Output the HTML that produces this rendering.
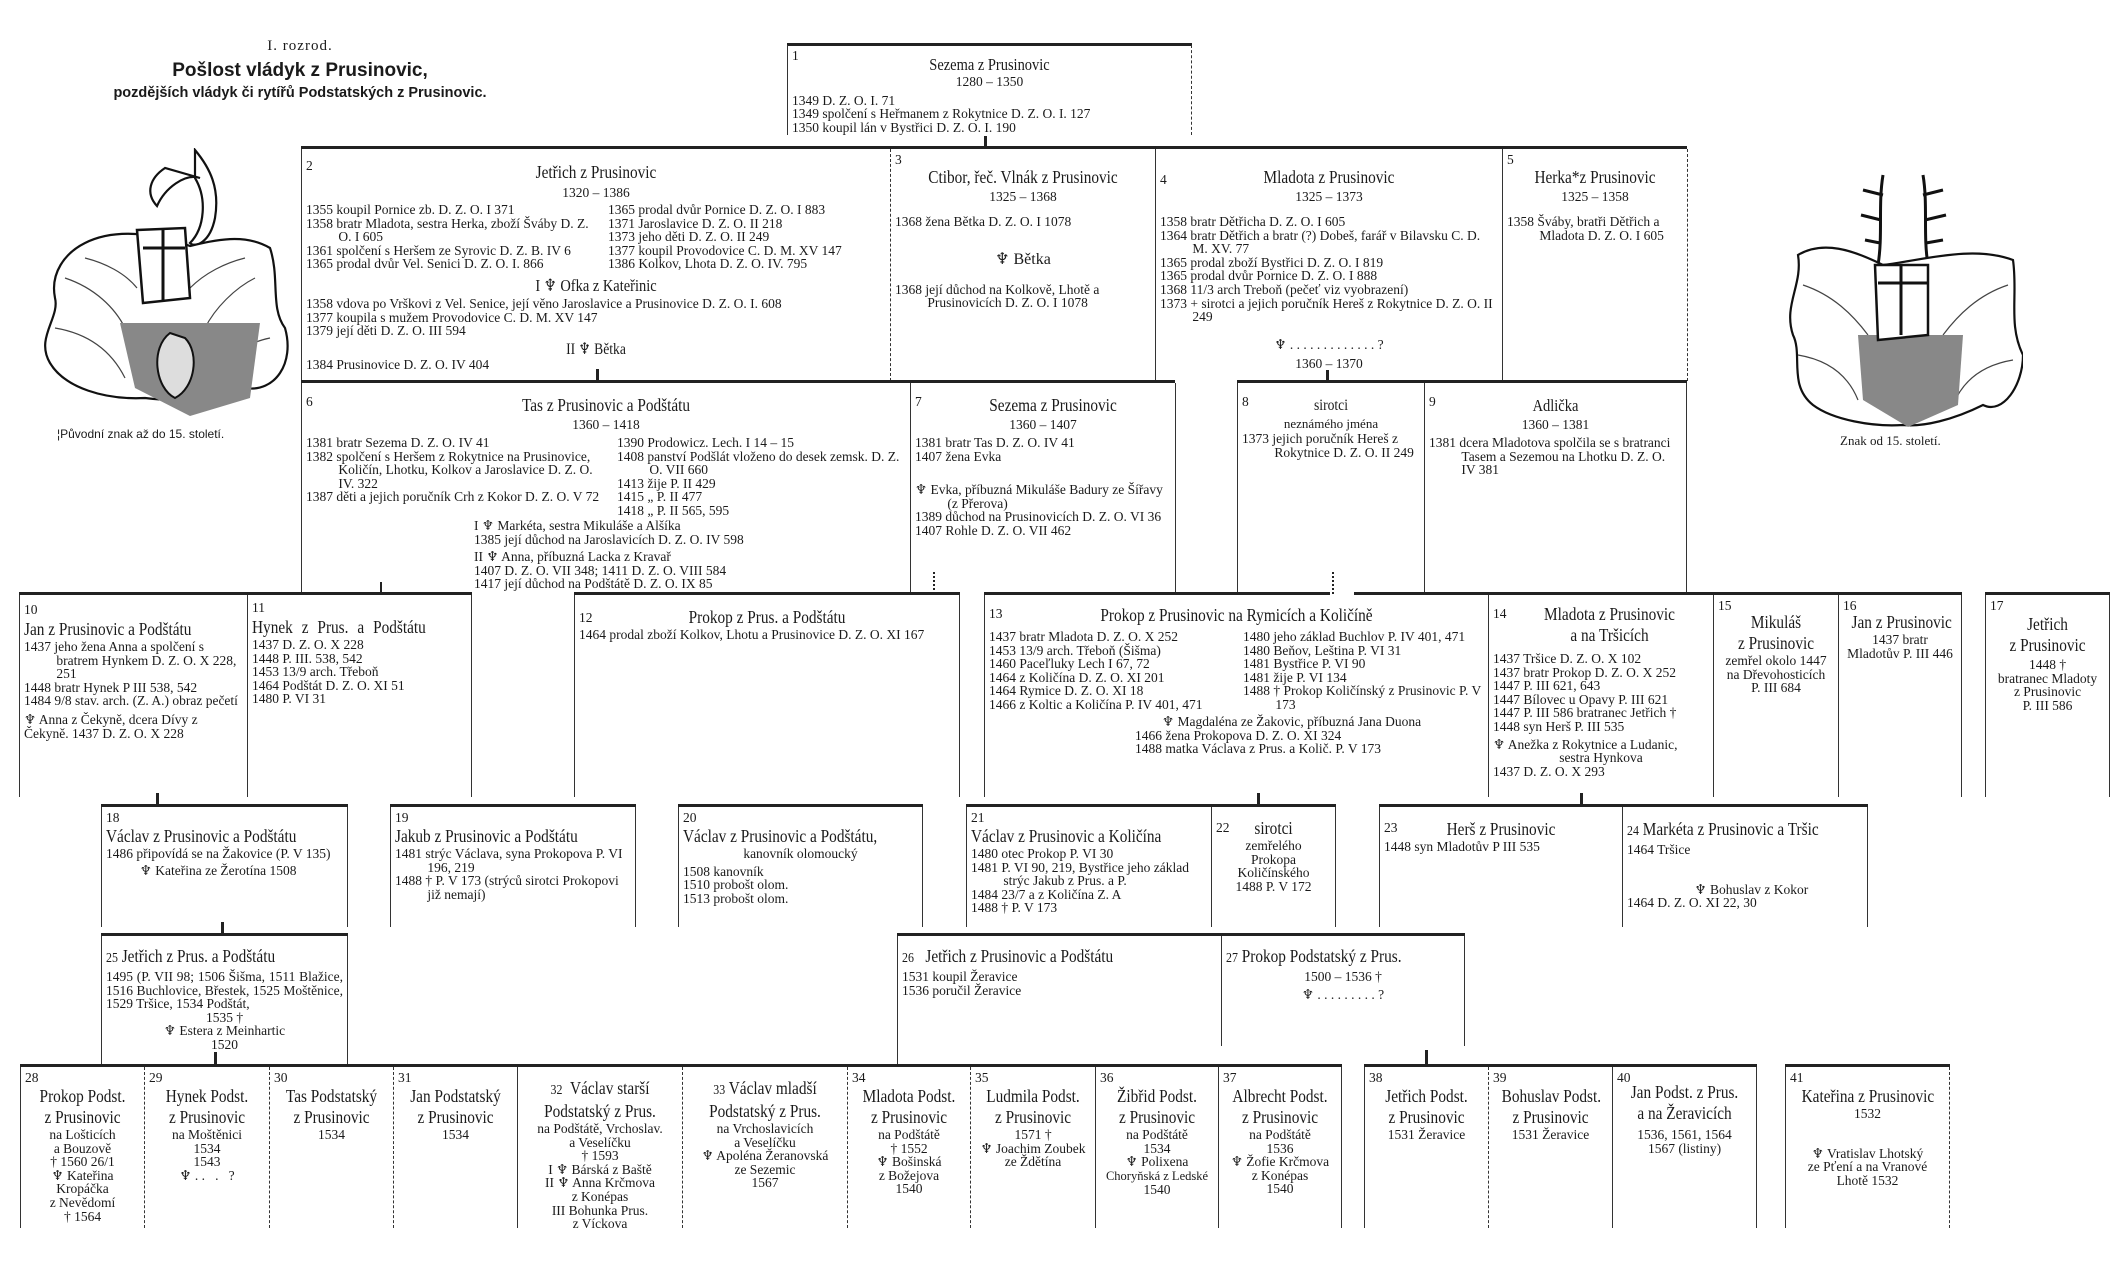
<!DOCTYPE html>
<html><head><meta charset="utf-8">
<style>
html,body{margin:0;padding:0;background:#fff;}
body{width:2126px;height:1265px;position:relative;overflow:hidden;font-family:"Liberation Serif",serif;color:#1a1a1a;}
.b{position:absolute;border-left:1.3px solid #333;box-sizing:border-box;}
.r{border-right:1.3px solid #333;}
.t{position:absolute;height:3px;background:#222;}
.v{position:absolute;width:3px;background:#222;}
.d{position:absolute;width:0;border-left:2px dotted #222;}
.in{position:absolute;left:4px;top:3px;width:calc(100% - 8px);font-size:13.5px;line-height:13.6px;letter-spacing:0;}
.num{font-size:13.5px;line-height:16px;}
.n{font-size:18px;line-height:21px;text-align:center;letter-spacing:0;}
.c{text-align:center;}
.h{padding-left:2.4em;text-indent:-2.4em;}
.cap{position:absolute;font-size:13px;white-space:nowrap;}
</style></head><body>

<!-- Title -->
<div style="position:absolute;left:160px;top:38px;width:280px;text-align:center;font-size:15px;letter-spacing:1px;">I. rozrod.</div>
<div style="position:absolute;left:150px;top:60px;width:300px;text-align:center;font-family:'Liberation Sans',sans-serif;font-weight:bold;font-size:19px;">Pošlost vládyk z Prusinovic,</div>
<div style="position:absolute;left:60px;top:85px;width:480px;text-align:center;font-family:'Liberation Sans',sans-serif;font-weight:bold;font-size:14.5px;">pozdějších vládyk či rytířů Podstatských z Prusinovic.</div>

<!-- Coats of arms -->
<svg style="position:absolute;left:25px;top:148px" width="265" height="275" viewBox="0 0 265 275">
 <g stroke="#111" stroke-width="2.2" fill="#fff">
  <path d="M170 2 C185 20 195 40 190 70 C185 95 170 100 165 95 C180 80 182 50 170 30 Z"/>
  <path d="M140 20 C125 30 120 45 132 58 C140 40 160 25 175 30 Z"/>
  <path d="M60 95 C90 80 130 85 165 98 C190 92 220 85 245 100 C255 130 245 160 260 180 C270 215 250 245 220 240 C200 250 160 255 120 250 C80 252 40 240 25 215 C10 190 35 170 30 150 C25 125 40 105 60 95 Z"/>
 </g>
 <g stroke="#444" stroke-width="1.2" fill="none">
  <path d="M40 130 C70 140 90 160 100 180 M30 180 C60 185 85 200 100 230 M230 130 C210 140 190 160 180 180 M245 190 C220 195 200 210 190 235 M60 110 C80 115 100 125 112 140 M220 110 C200 115 180 125 165 140"/>
 </g>
 <path d="M95 175 L235 175 L225 250 L165 268 L110 240 Z" fill="#888"/>
 <path d="M112 82 L160 80 L165 150 L118 155 Z" fill="#fff" stroke="#111" stroke-width="2.5"/>
 <path d="M138 82 L138 152 M118 100 L160 100" stroke="#111" stroke-width="3"/>
 <path d="M145 185 C125 200 130 240 150 250 C170 240 175 205 160 190 Z" fill="#ddd" stroke="#111" stroke-width="2"/>
</svg>
<div class="cap" style="left:57px;top:427px;font-family:'Liberation Sans',sans-serif;font-size:12px;">¦Původní znak až do 15. století.</div>

<svg style="position:absolute;left:1783px;top:165px" width="240" height="262" viewBox="0 0 240 262">
 <g stroke="#111" stroke-width="3" fill="none">
  <path d="M100 10 C95 40 100 70 95 100 M100 30 L80 25 M98 55 L78 50 M97 78 L82 75 M140 10 C145 40 140 70 145 100 M140 30 L160 25 M142 55 L163 50 M143 78 L160 75"/>
 </g>
 <path d="M15 90 C40 75 70 85 100 100 C140 95 190 80 230 95 C235 130 225 160 240 190 C240 220 220 250 200 240 C170 255 140 262 120 260 C90 262 50 255 30 240 C5 220 20 190 10 170 C0 140 20 120 15 90 Z" fill="#fff" stroke="#111" stroke-width="2.2"/>
 <g stroke="#444" stroke-width="1.2" fill="none">
  <path d="M20 120 C50 130 70 150 85 170 M15 190 C45 195 65 210 75 235 M225 120 C195 130 175 150 160 170 M230 195 C200 200 180 215 170 240"/>
 </g>
 <path d="M75 170 L180 170 L175 240 L125 262 L80 235 Z" fill="#888"/>
 <path d="M92 100 L145 100 L145 170 L95 175 Z" fill="#fff" stroke="#111" stroke-width="2.5"/>
 <path d="M118 100 L118 170 M95 118 L145 118" stroke="#111" stroke-width="3"/>
</svg>
<div class="cap" style="left:1840px;top:433px;">Znak od 15. století.</div>

<!-- ROW 1 -->
<div class="t" style="left:787px;top:43px;width:405px"></div>
<div class="b r" style="left:787px;top:45px;width:405px;height:90px;border-right-style:dashed;">
 <div class="in"><div class="num">1</div></div>
 <div class="n" style="position:absolute;left:0;right:0;top:9px;font-size:17px;transform:scaleX(.85)">Sezema z Prusinovic</div>
 <div class="in" style="top:30px"><div class="c">1280 – 1350</div><div style="height:5px"></div>
 <div>1349 D. Z. O. I. 71</div><div>1349 spolčení s Heřmanem z Rokytnice D. Z. O. I. 127</div><div>1350 koupil lán v Bystřici D. Z. O. I. 190</div></div>
</div>
<div class="v" style="left:984px;top:136px;height:11px"></div>

<!-- ROW 2 -->
<div class="t" style="left:301px;top:146px;width:1386px"></div>
<div class="b" style="left:301px;top:149px;width:589px;height:232px;">
 <div class="in"><div class="num" style="margin-top:6px">2</div></div>
 <div class="n" style="position:absolute;left:0;right:0;top:13px;transform:scaleX(.85)">Jetřich z Prusinovic</div>
 <div class="c" style="position:absolute;left:0;right:0;top:36px;font-size:13.5px;">1320 – 1386</div>
 <div class="in" style="top:54px;width:290px">
  <div>1355 koupil Pornice zb. D. Z. O. I 371</div>
  <div class="h">1358 bratr Mladota, sestra Herka, zboží Šváby D. Z. O. I 605</div>
  <div>1361 spolčení s Heršem ze Syrovic D. Z. B. IV 6</div>
  <div>1365 prodal dvůr Vel. Senici D. Z. O. I. 866</div>
 </div>
 <div class="in" style="left:306px;top:54px;width:280px">
  <div>1365 prodal dvůr Pornice D. Z. O. I 883</div>
  <div>1371 Jaroslavice D. Z. O. II 218</div>
  <div>1373 jeho děti D. Z. O. II 249</div>
  <div>1377 koupil Provodovice C. D. M. XV 147</div>
  <div>1386 Kolkov, Lhota D. Z. O. IV. 795</div>
 </div>
 <div class="c" style="position:absolute;left:0;right:0;top:127px;font-size:17px;transform:scaleX(.85)">I ♆ Ofka z Kateřinic</div>
 <div class="in" style="top:148px">
  <div>1358 vdova po Vrškovi z Vel. Senice, její věno Jaroslavice a Prusinovice D. Z. O. I. 608</div>
  <div>1377 koupila s mužem Provodovice C. D. M. XV 147</div>
  <div>1379 její děti D. Z. O. III 594</div>
 </div>
 <div class="c" style="position:absolute;left:0;right:0;top:190px;font-size:16px;transform:scaleX(.85)">II ♆ Bětka</div>
 <div class="in" style="top:209px"><div>1384 Prusinovice D. Z. O. IV 404</div></div>
</div>
<div class="b" style="left:890px;top:149px;width:265px;height:232px;border-left-style:dashed;">
 <div class="in"><div class="num">3</div></div>
 <div class="n" style="position:absolute;left:0;right:0;top:18px;transform:scaleX(.85)">Ctibor, řeč. Vlnák z Prusinovic</div>
 <div class="c" style="position:absolute;left:0;right:0;top:40px;font-size:13.5px;">1325 – 1368</div>
 <div class="in" style="top:66px">
  <div>1368 žena Bětka D. Z. O. I 1078</div>
  <div style="height:22px"></div>
  <div class="c" style="font-size:16px;line-height:18px">♆ Bětka</div>
  <div style="height:14px"></div>
  <div class="h">1368 její důchod na Kolkově, Lhotě a Prusinovicích D. Z. O. I 1078</div>
 </div>
</div>
<div class="b" style="left:1155px;top:149px;width:347px;height:232px;">
 <div class="in"><div class="num" style="margin-top:20px">4</div></div>
 <div class="n" style="position:absolute;left:0;right:0;top:18px;transform:scaleX(.85)">Mladota z Prusinovic</div>
 <div class="c" style="position:absolute;left:0;right:0;top:40px;font-size:13.5px;">1325 – 1373</div>
 <div class="in" style="top:66px">
  <div>1358 bratr Dětřicha D. Z. O. I 605</div>
  <div class="h">1364 bratr Dětřich a bratr (?) Dobeš, farář v Bilavsku C. D. M. XV. 77</div>
  <div>1365 prodal zboží Bystřici D. Z. O. I 819</div>
  <div>1365 prodal dvůr Pornice D. Z. O. I 888</div>
  <div>1368 11/3 arch Treboň (pečeť viz vyobrazení)</div>
  <div class="h">1373 + sirotci a jejich poručník Hereš z Rokytnice D. Z. O. II 249</div>
  <div style="height:14px"></div>
  <div class="c">♆ . . . . . . . . . . . . . ?</div>
  <div style="height:6px"></div>
  <div class="c">1360 – 1370</div>
 </div>
</div>
<div class="b r" style="left:1502px;top:149px;width:186px;height:232px;border-right-style:dashed;">
 <div class="in"><div class="num">5</div></div>
 <div class="n" style="position:absolute;left:0;right:0;top:18px;transform:scaleX(.85)">Herka*z Prusinovic</div>
 <div class="c" style="position:absolute;left:0;right:0;top:40px;font-size:13.5px;">1325 – 1358</div>
 <div class="in" style="top:66px"><div class="h">1358 Šváby, bratři Dětřich a Mladota D. Z. O. I 605</div></div>
</div>
<div class="v" style="left:596px;top:369px;height:12px"></div>
<div class="v" style="left:1326px;top:370px;height:11px"></div>

<!-- ROW 3 -->
<div class="t" style="left:301px;top:380px;width:874px"></div>
<div class="t" style="left:1237px;top:380px;width:450px"></div>
<div class="b" style="left:301px;top:383px;width:609px;height:212px;">
 <div class="in"><div class="num" style="margin-top:8px">6</div></div>
 <div class="n" style="position:absolute;left:0;right:0;top:12px;transform:scaleX(.85)">Tas z Prusinovic a Podštátu</div>
 <div class="c" style="position:absolute;left:0;right:0;top:34px;font-size:13.5px;">1360 – 1418</div>
 <div class="in" style="top:53px;width:295px">
  <div>1381 bratr Sezema D. Z. O. IV 41</div>
  <div class="h">1382 spolčení s Heršem z Rokytnice na Prusinovice, Količín, Lhotku, Kolkov a Jaroslavice D. Z. O. IV. 322</div>
  <div class="h">1387 děti a jejich poručník Crh z Kokor D. Z. O. V 72</div>
 </div>
 <div class="in" style="left:315px;top:53px;width:290px">
  <div>1390 Prodowicz. Lech. I 14 – 15</div>
  <div class="h">1408 panství Podšlát vloženo do desek zemsk. D. Z. O. VII 660</div>
  <div>1413 žije P. II 429</div>
  <div>1415 „ P. II 477</div>
  <div>1418 „ P. II 565, 595</div>
 </div>
 <div class="in" style="left:172px;top:136px;width:300px">
  <div>I ♆ Markéta, sestra Mikuláše a Alšíka</div>
  <div>1385 její důchod na Jaroslavicích D. Z. O. IV 598</div>
  <div style="height:4px"></div>
  <div>II ♆ Anna, příbuzná Lacka z Kravař</div>
  <div>1407 D. Z. O. VII 348; 1411 D. Z. O. VIII 584</div>
  <div>1417 její důchod na Podštátě D. Z. O. IX 85</div>
 </div>
</div>
<div class="b" style="left:910px;top:383px;width:265px;height:212px;">
 <div class="in"><div class="num" style="margin-top:8px">7</div></div>
 <div class="n" style="position:absolute;left:20px;right:0;top:12px;transform:scaleX(.85)">Sezema z Prusinovic</div>
 <div class="c" style="position:absolute;left:0;right:0;top:34px;font-size:13.5px;">1360 – 1407</div>
 <div class="in" style="top:53px">
  <div>1381 bratr Tas D. Z. O. IV 41</div>
  <div>1407 žena Evka</div>
  <div style="height:20px"></div>
  <div class="h">♆ Evka, příbuzná Mikuláše Badury ze Šířavy (z Přerova)</div>
  <div class="h">1389 důchod na Prusinovicích D. Z. O. VI 36</div>
  <div>1407 Rohle D. Z. O. VII 462</div>
 </div>
</div>
<div class="b r" style="left:1175px;top:383px;width:0;height:212px;border-left:none"></div>
<div class="b" style="left:1237px;top:383px;width:187px;height:212px;">
 <div class="in"><div class="num" style="margin-top:8px">8</div></div>
 <div class="n" style="position:absolute;left:0;right:0;top:12px;font-size:16px;transform:scaleX(.85)">sirotci</div>
 <div class="c" style="position:absolute;left:0;right:0;top:33px;font-size:13px;">neznámého jména</div>
 <div class="in" style="top:49px"><div class="h">1373 jejich poručník Hereš z Rokytnice D. Z. O. II 249</div></div>
</div>
<div class="b r" style="left:1424px;top:383px;width:263px;height:212px;">
 <div class="in"><div class="num" style="margin-top:8px">9</div></div>
 <div class="n" style="position:absolute;left:0;right:0;top:12px;font-size:17px;transform:scaleX(.85)">Adlička</div>
 <div class="c" style="position:absolute;left:0;right:0;top:34px;font-size:13.5px;">1360 – 1381</div>
 <div class="in" style="top:53px"><div class="h">1381 dcera Mladotova spolčila se s bratranci Tasem a Sezemou na Lhotku D. Z. O. IV 381</div></div>
</div>
<div class="v" style="left:380px;top:582px;height:11px;width:2px"></div>
<div class="d" style="left:933px;top:572px;height:22px"></div>
<div class="d" style="left:1332px;top:572px;height:22px"></div>

<!-- ROW 4 -->
<div class="t" style="left:19px;top:592px;width:453px"></div>
<div class="t" style="left:574px;top:592px;width:386px"></div>
<div class="t" style="left:984px;top:592px;width:346px"></div>
<div class="t" style="left:1354px;top:592px;width:608px"></div>
<div class="t" style="left:1985px;top:592px;width:125px"></div>
<div class="b" style="left:19px;top:595px;width:228px;height:202px;">
 <div class="in"><div class="num" style="margin-top:4px">10</div>
 <div class="n" style="text-align:left;line-height:22px;transform:scaleX(.85);transform-origin:0 0;white-space:nowrap">Jan z Prusinovic a Podštátu</div>
 <div class="h">1437 jeho žena Anna a spolčení s bratrem Hynkem D. Z. O. X 228, 251</div>
 <div>1448 bratr Hynek P III 538, 542</div>
 <div class="h">1484 9/8 stav. arch. (Z. A.) obraz pečetí</div>
 <div style="height:5px"></div>
 <div>♆ Anna z Čekyně, dcera Dívy z Čekyně. 1437 D. Z. O. X 228</div></div>
</div>
<div class="b r" style="left:247px;top:595px;width:225px;height:202px;">
 <div class="in"><div class="num" style="margin-top:2px">11</div>
 <div class="n" style="text-align:left;line-height:22px;word-spacing:6px;transform:scaleX(.85);transform-origin:0 0;white-space:nowrap">Hynek z Prus. a Podštátu</div>
 <div>1437 D. Z. O. X 228</div><div>1448 P. III. 538, 542</div><div>1453 13/9 arch. Třeboň</div><div>1464 Podštát D. Z. O. XI 51</div><div>1480 P. VI 31</div></div>
</div>
<div class="b r" style="left:574px;top:595px;width:386px;height:202px;">
 <div class="in"><div class="num" style="margin-top:12px;position:absolute">12</div>
 <div class="n" style="margin-top:8px;line-height:22px;transform:scaleX(.85)">Prokop z Prus. a Podštátu</div>
 <div>1464 prodal zboží Kolkov, Lhotu a Prusinovice D. Z. O. XI 167</div></div>
</div>
<div class="b" style="left:984px;top:595px;width:504px;height:202px;">
 <div class="in"><div class="num" style="margin-top:8px;position:absolute">13</div>
 <div class="n" style="margin-top:6px;line-height:22px;transform:scaleX(.85)">Prokop z Prusinovic na Rymicích a Količíně</div></div>
 <div class="in" style="top:35px;width:250px">
  <div>1437 bratr Mladota D. Z. O. X 252</div><div>1453 13/9 arch. Třeboň (Šišma)</div><div>1460 Paceľluky Lech I 67, 72</div><div>1464 z Količína D. Z. O. XI 201</div><div>1464 Rymice D. Z. O. XI 18</div><div>1466 z Koltic a Količína P. IV 401, 471</div>
 </div>
 <div class="in" style="left:258px;top:35px;width:245px">
  <div>1480 jeho základ Buchlov P. IV 401, 471</div><div>1480 Beňov, Leština P. VI 31</div><div>1481 Bystřice P. VI 90</div><div>1481 žije P. VI 134</div><div class="h">1488 † Prokop Količínský z Prusinovic P. V 173</div>
 </div>
 <div class="in" style="left:150px;top:120px;width:320px">
  <div style="padding-left:2em">♆ Magdaléna ze Žakovic, příbuzná Jana Duona</div>
  <div>1466 žena Prokopova D. Z. O. XI 324</div><div>1488 matka Václava z Prus. a Količ. P. V 173</div>
 </div>
</div>
<div class="b" style="left:1488px;top:595px;width:225px;height:202px;">
 <div class="in"><div class="num" style="margin-top:8px;position:absolute">14</div>
 <div class="n" style="padding-left:20px;margin-top:6px;line-height:21px;transform:scaleX(.85)">Mladota z Prusinovic<br>a na Tršicích</div>
 <div style="height:6px"></div>
 <div>1437 Tršice D. Z. O. X 102</div><div class="h">1437 bratr Prokop D. Z. O. X 252</div><div>1447 P. III 621, 643</div><div>1447 Bílovec u Opavy P. III 621</div><div>1447 P. III 586 bratranec Jetřich †</div><div>1448 syn Herš P. III 535</div>
 <div style="height:4px"></div>
 <div>♆ Anežka z Rokytnice a Ludanic,</div><div class="c">sestra Hynkova</div><div>1437 D. Z. O. X 293</div></div>
</div>
<div class="b" style="left:1713px;top:595px;width:125px;height:202px;">
 <div class="in"><div class="num">15</div>
 <div class="n" style="line-height:21px;margin-top:-2px;transform:scaleX(.85)">Mikuláš<br>z Prusinovic</div>
 <div class="c">zemřel okolo 1447<br>na Dřevohosticích<br>P. III 684</div></div>
</div>
<div class="b r" style="left:1838px;top:595px;width:124px;height:202px;">
 <div class="in"><div class="num">16</div>
 <div class="n" style="line-height:21px;margin-top:-2px;transform:scaleX(.85);white-space:nowrap">Jan z Prusinovic</div>
 <div class="c">1437 bratr<br>Mladotův P. III 446</div></div>
</div>
<div class="b r" style="left:1985px;top:595px;width:125px;height:202px;">
 <div class="in"><div class="num">17</div>
 <div class="n" style="line-height:21px;transform:scaleX(.85)">Jetřich<br>z Prusinovic</div>
 <div class="c" style="margin-top:2px">1448 †<br>bratranec Mladoty<br>z Prusinovic<br>P. III 586</div></div>
</div>
<div class="v" style="left:156px;top:793px;height:12px"></div>
<div class="v" style="left:1257px;top:793px;height:12px"></div>
<div class="v" style="left:1580px;top:793px;height:12px"></div>

<!-- ROW 5 -->
<div class="t" style="left:101px;top:804px;width:247px"></div>
<div class="t" style="left:390px;top:804px;width:246px"></div>
<div class="t" style="left:678px;top:804px;width:245px"></div>
<div class="t" style="left:966px;top:804px;width:370px"></div>
<div class="t" style="left:1379px;top:804px;width:489px"></div>
<div class="b r" style="left:101px;top:807px;width:247px;height:120px;">
 <div class="in"><div class="num">18</div>
 <div class="n" style="text-align:left;line-height:21px;transform:scaleX(.85);transform-origin:0 0;white-space:nowrap">Václav z Prusinovic a Podštátu</div>
 <div class="h">1486 připovídá se na Žakovice (P. V 135)</div><div style="height:3px"></div><div style="padding-left:2.5em">♆ Kateřina ze Žerotína 1508</div></div>
</div>
<div class="b r" style="left:390px;top:807px;width:246px;height:120px;">
 <div class="in"><div class="num">19</div>
 <div class="n" style="text-align:left;line-height:21px;transform:scaleX(.85);transform-origin:0 0;white-space:nowrap">Jakub z Prusinovic a Podštátu</div>
 <div class="h">1481 strýc Václava, syna Prokopova P. VI 196, 219</div><div class="h">1488 † P. V 173 (strýců sirotci Prokopovi již nemají)</div></div>
</div>
<div class="b r" style="left:678px;top:807px;width:245px;height:120px;">
 <div class="in"><div class="num">20</div>
 <div class="n" style="text-align:left;line-height:21px;transform:scaleX(.85);transform-origin:0 0;white-space:nowrap">Václav z Prusinovic a Podštátu,</div>
 <div class="c">kanovník olomoucký</div><div style="height:4px"></div><div>1508 kanovník</div><div>1510 probošt olom.</div><div>1513 probošt olom.</div></div>
</div>
<div class="b" style="left:966px;top:807px;width:245px;height:120px;">
 <div class="in"><div class="num">21</div>
 <div class="n" style="text-align:left;line-height:21px;transform:scaleX(.85);transform-origin:0 0;white-space:nowrap">Václav z Prusinovic a Količína</div>
 <div>1480 otec Prokop P. VI 30</div><div class="h">1481 P. VI 90, 219, Bystřice jeho základ strýc Jakub z Prus. a P.</div><div>1484 23/7 a z Količína Z. A</div><div>1488 † P. V 173</div></div>
</div>
<div class="b r" style="left:1211px;top:807px;width:125px;height:120px;">
 <div class="in"><div class="num" style="position:absolute;top:10px">22</div>
 <div class="n" style="margin-top:8px;line-height:21px;transform:scaleX(.85)">sirotci</div>
 <div class="c">zemřelého<br>Prokopa<br>Količínského<br>1488 P. V 172</div></div>
</div>
<div class="b" style="left:1379px;top:807px;width:243px;height:120px;">
 <div class="in"><div class="num" style="position:absolute;top:10px">23</div>
 <div class="n" style="margin-top:8px;line-height:22px;transform:scaleX(.85)">Herš z Prusinovic</div>
 <div>1448 syn Mladotův P III 535</div></div>
</div>
<div class="b r" style="left:1622px;top:807px;width:246px;height:120px;">
 <div class="in"><div class="n" style="margin-top:8px;line-height:22px;text-align:left;transform:scaleX(.85);transform-origin:0 0;white-space:nowrap"><span style="font-size:14px">24</span> Markéta z Prusinovic a Tršic</div>
 <div>1464 Tršice</div><div style="height:26px"></div><div style="padding-left:5em">♆ Bohuslav z Kokor</div><div>1464 D. Z. O. XI 22, 30</div></div>
</div>
<div class="v" style="left:221px;top:922px;height:12px"></div>

<!-- ROW 6 -->
<div class="t" style="left:101px;top:933px;width:247px"></div>
<div class="t" style="left:897px;top:933px;width:568px"></div>
<div class="b r" style="left:101px;top:936px;width:247px;height:130px;">
 <div class="in"><div class="n" style="margin-top:6px;line-height:22px;text-align:left;transform:scaleX(.85);transform-origin:0 0;white-space:nowrap"><span style="font-size:14px">25</span> Jetřich z Prus. a Podštátu</div>
 <div style="text-align:justify">1495 (P. VII 98; 1506 Šišma, 1511 Blažice, 1516 Buchlovice, Břestek, 1525 Moštěnice, 1529 Tršice, 1534 Podštát,</div><div class="c">1535 †</div><div class="c">♆ Estera z Meinhartic</div><div class="c">1520</div></div>
</div>
<div class="b" style="left:897px;top:936px;width:324px;height:130px;">
 <div class="in"><div class="n" style="margin-top:6px;line-height:22px;text-align:left;transform:scaleX(.85);transform-origin:0 0;white-space:nowrap"><span style="font-size:14px">26</span> &nbsp; Jetřich z Prusinovic a Podštátu</div>
 <div>1531 koupil Žeravice</div><div>1536 poručil Žeravice</div></div>
</div>
<div class="b r" style="left:1221px;top:936px;width:244px;height:110px;">
 <div class="in"><div class="n" style="margin-top:6px;line-height:22px;text-align:left;transform:scaleX(.85);transform-origin:0 0;white-space:nowrap"><span style="font-size:14px">27</span> Prokop Podstatský z Prus.</div>
 <div class="c">1500 – 1536 †</div><div style="height:4px"></div><div class="c">♆ . . . . . . . . . ?</div></div>
</div>
<div class="v" style="left:214px;top:1052px;height:12px"></div>
<div class="v" style="left:1425px;top:1050px;height:14px"></div>

<!-- ROW 7 -->
<div class="t" style="left:20px;top:1064px;width:1322px"></div>
<div class="t" style="left:1364px;top:1064px;width:393px"></div>
<div class="t" style="left:1785px;top:1064px;width:165px"></div>
<div class="b" style="left:20px;top:1067px;width:124px;height:161px;"><div class="in"><div class="num">28</div><div class="n" style="line-height:21px;transform:scaleX(.85)">Prokop Podst.<br>z Prusinovic</div><div class="c">na Lošticích<br>a Bouzově<br>† 1560 26/1<br>♆ Kateřina<br>Kropáčka<br>z Nevědomí<br>† 1564</div></div></div>
<div class="b" style="left:144px;top:1067px;width:125px;height:161px;border-left-style:dashed"><div class="in"><div class="num">29</div><div class="n" style="line-height:21px;transform:scaleX(.85)">Hynek Podst.<br>z Prusinovic</div><div class="c">na Moštěnici<br>1534<br>1543<br>♆ . . &nbsp; . &nbsp; ?</div></div></div>
<div class="b" style="left:269px;top:1067px;width:124px;height:161px;border-left-style:dashed"><div class="in"><div class="num">30</div><div class="n" style="line-height:21px;transform:scaleX(.85);white-space:nowrap">Tas Podstatský<br>z Prusinovic</div><div class="c">1534</div></div></div>
<div class="b" style="left:393px;top:1067px;width:124px;height:161px;border-left-style:dashed"><div class="in"><div class="num">31</div><div class="n" style="line-height:21px;transform:scaleX(.85);white-space:nowrap">Jan Podstatský<br>z Prusinovic</div><div class="c">1534</div></div></div>
<div class="b" style="left:517px;top:1067px;width:165px;height:161px;"><div class="in"><div class="n" style="line-height:21px;margin-top:8px;transform:scaleX(.85);white-space:nowrap"><span style="font-size:14px">32</span> &nbsp;Václav starší<br>Podstatský z Prus.</div><div class="c">na Podštátě, Vrchoslav.<br>a Veselíčku<br>† 1593<br>I ♆ Bárská z Baště<br>II ♆ Anna Krčmova<br>z Konépas<br>III Bohunka Prus.<br>z Víckova</div></div></div>
<div class="b" style="left:682px;top:1067px;width:165px;height:161px;border-left-style:dashed"><div class="in"><div class="n" style="line-height:21px;margin-top:8px;transform:scaleX(.85);white-space:nowrap"><span style="font-size:14px">33</span> Václav mladší<br>Podstatský z Prus.</div><div class="c">na Vrchoslavicích<br>a Veselíčku<br>♆ Apoléna Žeranovská<br>ze Sezemic<br>1567</div></div></div>
<div class="b" style="left:847px;top:1067px;width:123px;height:161px;border-left-style:dashed"><div class="in"><div class="num">34</div><div class="n" style="line-height:21px;transform:scaleX(.85);white-space:nowrap">Mladota Podst.<br>z Prusinovic</div><div class="c">na Podštátě<br>† 1552<br>♆ Bošinská<br>z Božejova<br>1540</div></div></div>
<div class="b" style="left:970px;top:1067px;width:125px;height:161px;border-left-style:dashed"><div class="in"><div class="num">35</div><div class="n" style="line-height:21px;transform:scaleX(.85);white-space:nowrap">Ludmila Podst.<br>z Prusinovic</div><div class="c">1571 †<br>♆ Joachim Zoubek<br>ze Ždětína</div></div></div>
<div class="b" style="left:1095px;top:1067px;width:123px;height:161px;"><div class="in"><div class="num">36</div><div class="n" style="line-height:21px;transform:scaleX(.85);white-space:nowrap">Žibřid Podst.<br>z Prusinovic</div><div class="c">na Podštátě<br>1534<br>♆ Polixena<br><span style="font-size:12.5px">Choryňská z Ledské</span><br>1540</div></div></div>
<div class="b r" style="left:1218px;top:1067px;width:124px;height:161px;"><div class="in"><div class="num">37</div><div class="n" style="line-height:21px;transform:scaleX(.85);white-space:nowrap">Albrecht Podst.<br>z Prusinovic</div><div class="c">na Podštátě<br>1536<br>♆ Žofie Krčmova<br>z Konépas<br>1540</div></div></div>
<div class="b" style="left:1364px;top:1067px;width:124px;height:161px;"><div class="in"><div class="num">38</div><div class="n" style="line-height:21px;transform:scaleX(.85);white-space:nowrap">Jetřich Podst.<br>z Prusinovic</div><div class="c">1531 Žeravice</div></div></div>
<div class="b" style="left:1488px;top:1067px;width:124px;height:161px;border-left-style:dashed"><div class="in"><div class="num">39</div><div class="n" style="line-height:21px;transform:scaleX(.85);white-space:nowrap">Bohuslav Podst.<br>z Prusinovic</div><div class="c">1531 Žeravice</div></div></div>
<div class="b r" style="left:1612px;top:1067px;width:145px;height:161px;"><div class="in"><div class="num" style="position:absolute;top:0">40</div><div class="n" style="line-height:21px;margin-top:12px;transform:scaleX(.85);white-space:nowrap">Jan Podst. z Prus.<br>a na Žeravicích</div><div class="c" style="margin-top:4px">1536, 1561, 1564<br>1567 (listiny)</div></div></div>
<div class="b r" style="left:1785px;top:1067px;width:165px;height:161px;border-right-style:dashed"><div class="in"><div class="num">41</div><div class="n" style="line-height:21px;transform:scaleX(.85);white-space:nowrap">Kateřina z Prusinovic</div><div class="c">1532</div><div style="height:26px"></div><div class="c">♆ Vratislav Lhotský<br>ze Pťení a na Vranové<br>Lhotě 1532</div></div></div>
<div class="v" style="left:1425px;top:1057px;height:8px;width:2px"></div>

</body></html>
